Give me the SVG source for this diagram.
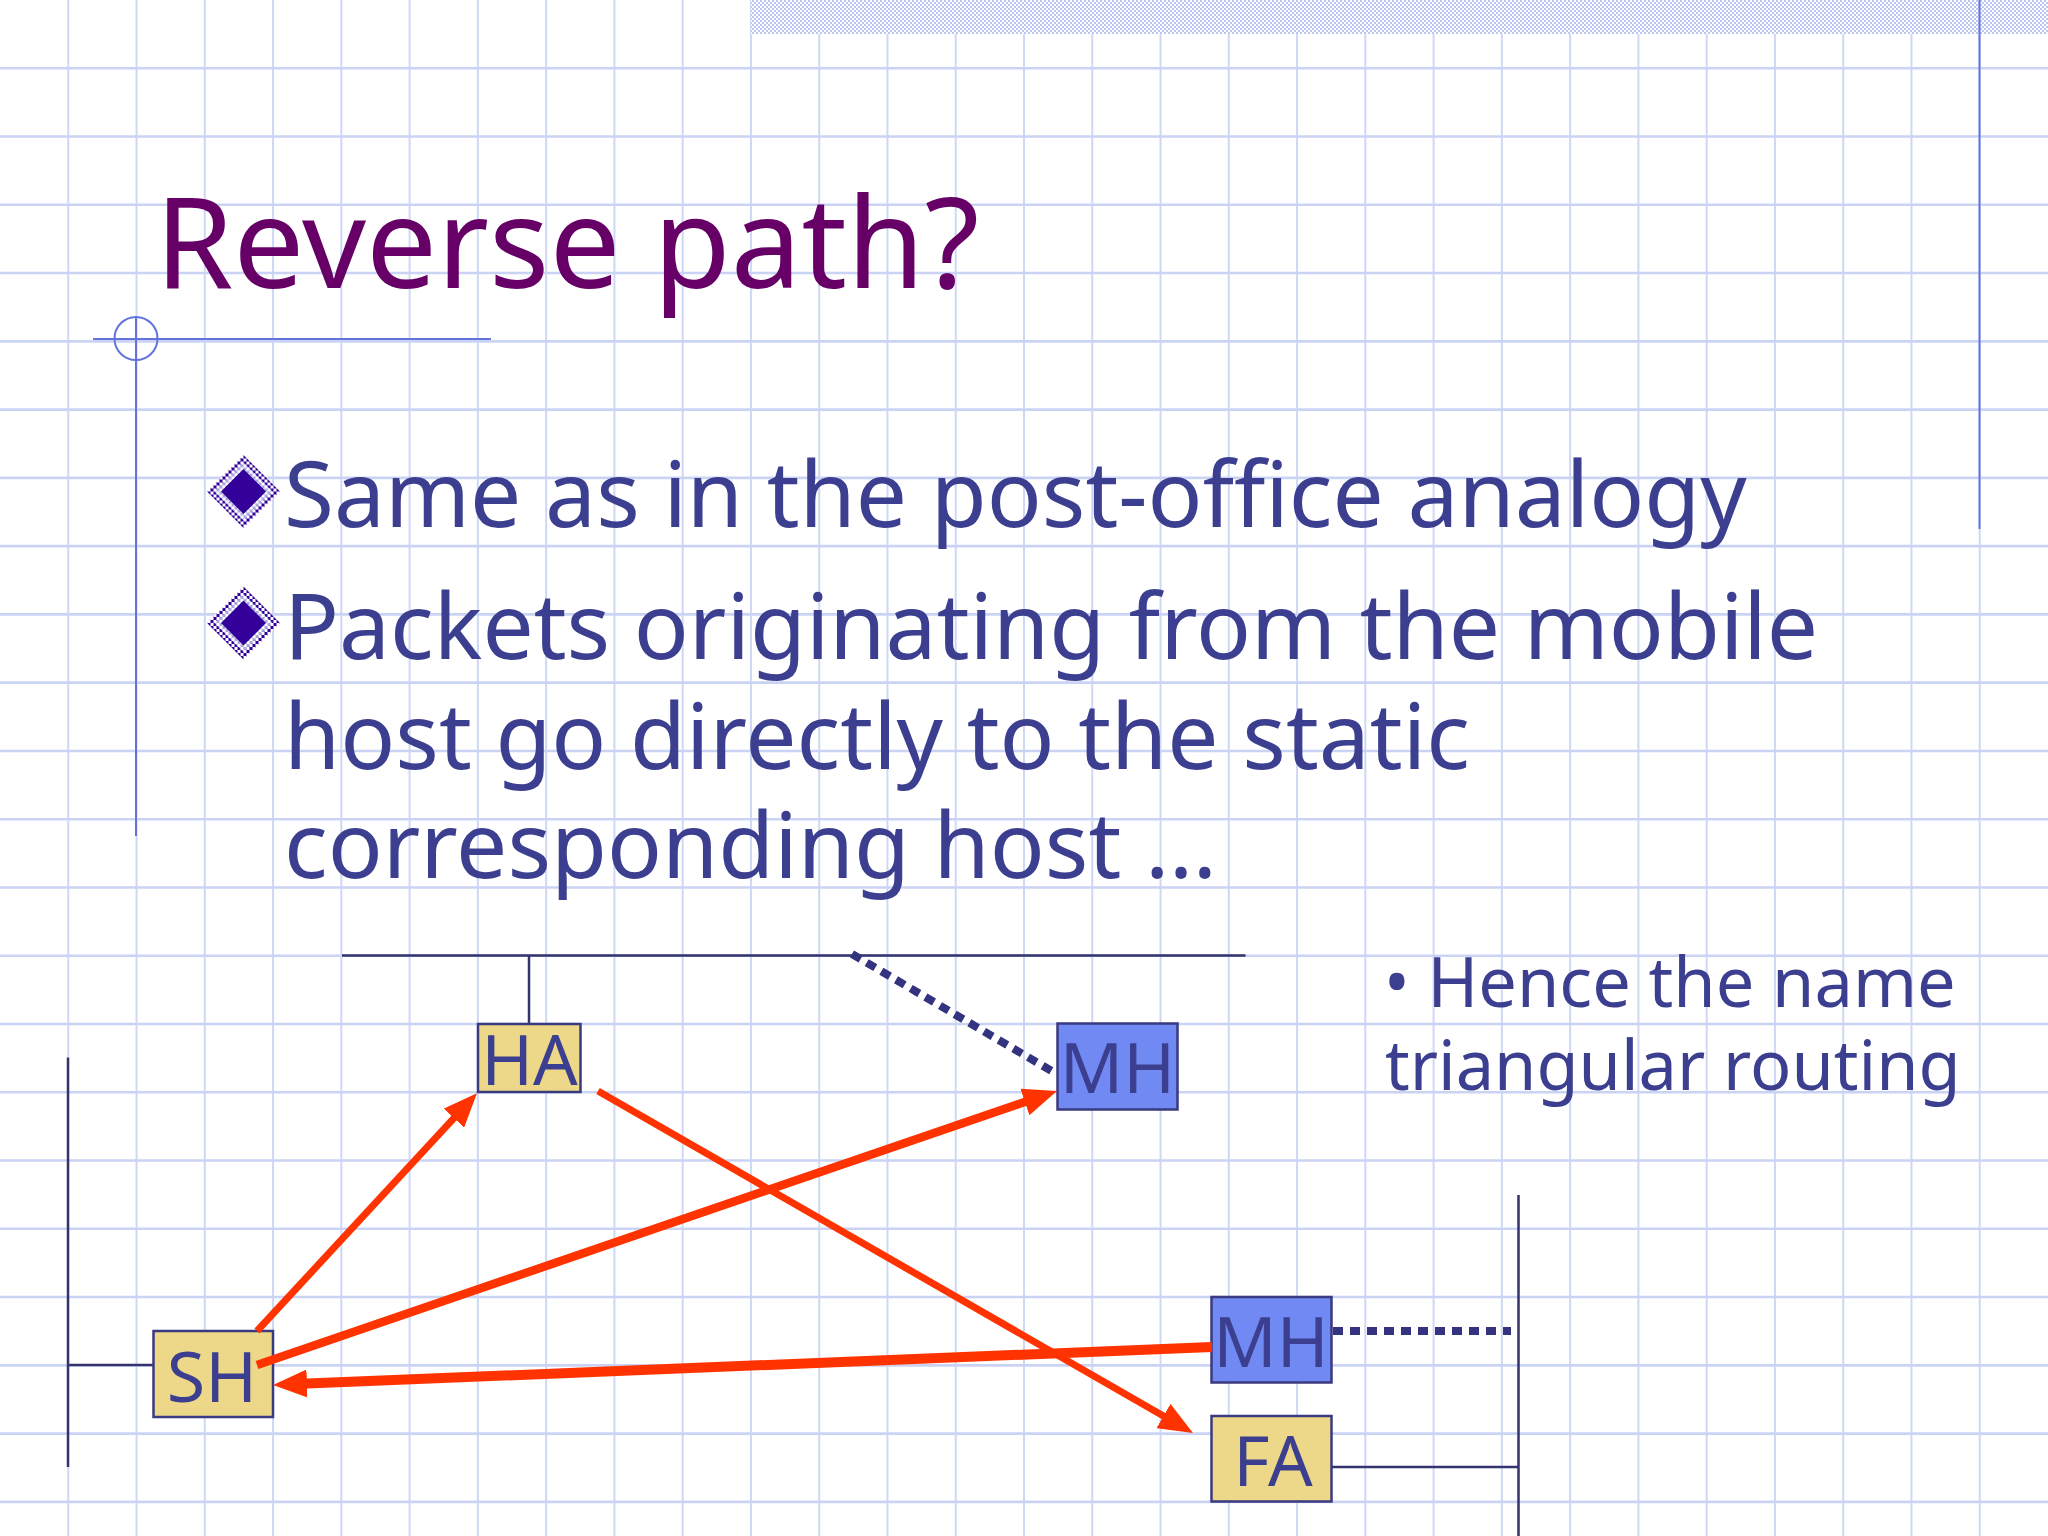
<svg xmlns="http://www.w3.org/2000/svg" width="2048" height="1536" viewBox="0 0 2048 1536">
<style>
.grid{stroke:#cfd7f6;stroke-width:2;fill:none}
.gridh{stroke:#cbd3f5;stroke-width:2.6;fill:none}
.deco{stroke:#6274dc;stroke-width:2;fill:none}
.bus{stroke:#33336e;stroke-width:2.5;fill:none}
.dots{stroke:#333380;stroke-width:8;stroke-dasharray:10 7;fill:none}
.red{stroke:#ff3300;fill:none}
.box{stroke:#3a3a80;stroke-width:2.5}
.ha{fill:#ecd888}
.mh{fill:#7189f2}
.lbl{font-family:"Noto Sans","Open Sans",sans-serif;font-size:70px;fill:#3c3f8f;text-anchor:middle}
.body{font-family:"Noto Sans","Open Sans",sans-serif;font-size:91px;fill:#3c3f8f}
.side{font-family:"Noto Sans","Open Sans",sans-serif;font-size:68.5px;fill:#3c3f8f}
.title{font-family:"Noto Sans","Open Sans",sans-serif;font-size:126px;fill:#660066}
</style>
<defs>
<pattern id="band" width="4" height="4" patternUnits="userSpaceOnUse">
<rect width="4" height="4" fill="#ffffff"/>
<rect width="2" height="2" fill="#bcc6f0"/>
<rect x="2" y="2" width="2" height="2" fill="#bcc6f0"/>
</pattern>
<pattern id="dk" width="6" height="6" patternUnits="userSpaceOnUse">
<rect width="6" height="6" fill="#ffffff"/>
<rect width="3" height="3" fill="#330099"/>
<rect x="3" y="3" width="3" height="3" fill="#330099"/>
</pattern>
<pattern id="lt" width="6" height="6" patternUnits="userSpaceOnUse">
<rect width="6" height="6" fill="#ffffff"/>
<rect width="3" height="3" fill="#a8a8dc"/>
<rect x="3" y="3" width="3" height="3" fill="#a8a8dc"/>
</pattern>
<g id="diamond">
<polygon points="0,-36.5 36.5,0 0,36.5 -36.5,0" fill="url(#dk)"/>
<polygon points="0,-29 29,0 0,29 -29,0" fill="url(#lt)"/>
<polygon points="0,-22.5 22.5,0 0,22.5 -22.5,0" fill="#330099"/>
</g>
<marker id="ah" markerUnits="userSpaceOnUse" markerWidth="34" markerHeight="28" refX="12" refY="14" orient="auto" viewBox="0 0 34 28">
<path d="M0,0 L34,14 L0,28 z" fill="#ff3300"/>
</marker>
</defs>
<rect width="2048" height="1536" fill="#ffffff"/>
<g id="background">
<path class="grid" d="M68.27,0V1536M136.53,0V1536M204.8,0V1536M273.07,0V1536M341.33,0V1536M409.6,0V1536M477.87,0V1536M546.13,0V1536M614.4,0V1536M682.67,0V1536M750.93,0V1536M819.2,0V1536M887.47,0V1536M955.73,0V1536M1024,0V1536M1092.27,0V1536M1160.53,0V1536M1228.8,0V1536M1297.07,0V1536M1365.33,0V1536M1433.6,0V1536M1501.87,0V1536M1570.13,0V1536M1638.4,0V1536M1706.67,0V1536M1774.93,0V1536M1843.2,0V1536M1911.47,0V1536M1979.73,0V1536"/>
<path class="gridh" d="M0,68.27H2048M0,136.53H2048M0,204.8H2048M0,273.07H2048M0,341.33H2048M0,409.6H2048M0,477.87H2048M0,546.13H2048M0,614.4H2048M0,682.67H2048M0,750.93H2048M0,819.2H2048M0,887.47H2048M0,955.73H2048M0,1024H2048M0,1092.27H2048M0,1160.53H2048M0,1228.8H2048M0,1297.07H2048M0,1365.33H2048M0,1433.6H2048M0,1501.87H2048"/>
<rect x="751" y="0" width="1297" height="34" fill="url(#band)"/>
<path class="deco" d="M1979.5,0V529"/>
<path class="deco" d="M93,339H491M136,317V836"/>
<circle class="deco" cx="136" cy="338.5" r="21.5"/>
</g>
<text class="title" x="155" y="288">Reverse path?</text>
<g id="bullets">
<use href="#diamond" x="243.5" y="491.5"/>
<use href="#diamond" x="243.5" y="623"/>
<text class="body" x="284" y="527">Same as in the post-office analogy</text>
<text class="body"><tspan x="284" y="659">Packets originating from the mobile</tspan><tspan x="284" y="769">host go directly to the static</tspan><tspan x="284" y="878">corresponding host …</tspan></text>
</g>
<g id="side-note">
<text class="side"><tspan x="1384" y="1007">• Hence the name</tspan><tspan x="1385" y="1090">triangular routing</tspan></text>
</g>
<g id="networks">
<path class="bus" d="M342,955.5H1245.5M529,955.5V1024"/>
<path class="bus" d="M68,1057.5V1467M68,1365H154"/>
<path class="bus" d="M1518.5,1195V1536M1331.5,1467H1518.5"/>
</g>
<g id="connectors">
<path class="dots" d="M852,954L1055,1073"/>
<path class="dots" d="M1333,1331H1511"/>
</g>
<g id="node-HA"><rect class="box ha" x="478" y="1024" width="102.5" height="68"/><text class="lbl" x="529.5" y="1085">HA</text></g>
<g id="node-MH-home"><rect class="box mh" x="1057.5" y="1023.5" width="120" height="86"/><text class="lbl" x="1117.5" y="1093">MH</text></g>
<g id="node-SH"><rect class="box ha" x="153.5" y="1331" width="119.5" height="86"/><text class="lbl" x="212" y="1401.5">SH</text></g>
<g id="node-MH-foreign"><rect class="box mh" x="1211.5" y="1297" width="120" height="85.5"/><text class="lbl" x="1271" y="1367">MH</text></g>
<g id="node-FA"><rect class="box ha" x="1211.5" y="1416" width="120" height="85.5"/><text class="lbl" x="1273" y="1486">FA</text></g>
<g id="arrows">
<path class="red" stroke-width="7" marker-end="url(#ah)" d="M257,1331L462,1109.3"/>
<path class="red" stroke-width="8.5" marker-end="url(#ah)" d="M257,1365L1036.2,1098.1"/>
<path class="red" stroke-width="7" marker-end="url(#ah)" d="M598,1091L1173.9,1422"/>
<path class="red" stroke-width="10" marker-end="url(#ah)" d="M1212,1347L295,1384"/>
</g>
</svg>
